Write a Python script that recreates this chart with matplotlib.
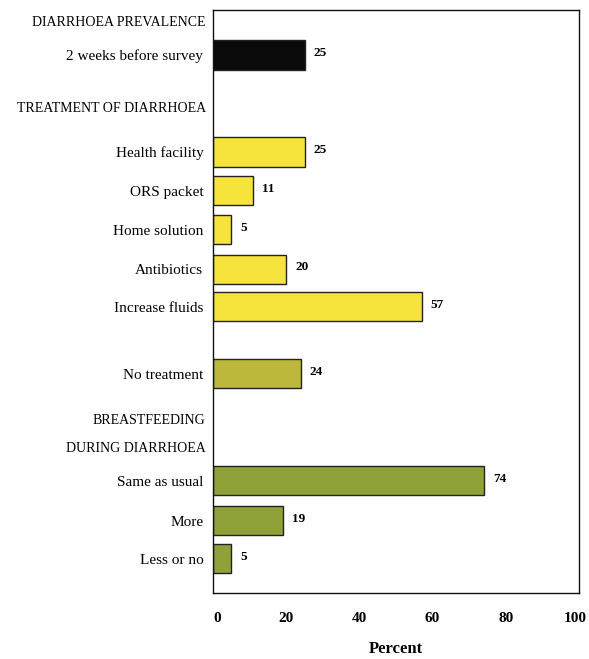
import matplotlib
matplotlib.use("Agg")
import matplotlib.pyplot as plt
from matplotlib.transforms import ScaledTranslation

# ---- data ----
categories = ["2 weeks before survey", "Health facility", "ORS packet", "Home solution",
              "Antibiotics", "Increase fluids", "No treatment", "Same as usual",
              "More", "Less or no"]
values = [25, 25, 11, 5, 20, 57, 24, 74, 19, 5]
groups = ["prev", "treat", "treat", "treat", "treat", "treat", "none", "bf", "bf", "bf"]
headings = ["DIARRHOEA PREVALENCE", "TREATMENT OF DIARRHOEA", "BREASTFEEDING", "DURING DIARRHOEA"]
xticks = [0, 20, 40, 60, 80, 100]
xlabel = "Percent"

# ---- layout / style ----
bar_pos = [1.16, 3.66, 4.66, 5.67, 6.68, 7.65, 9.38, 12.14, 13.17, 14.15]
head_pos = [0.31, 2.53, 10.57, 11.31]
colors = {"prev": "#0a0a0a", "treat": "#f6e43c", "none": "#bdb83c", "bf": "#8fa23a"}

plt.rcParams['font.family'] = ['Liberation Serif', 'DejaVu Serif']

fig = plt.figure(figsize=(5.89, 6.59), dpi=100)
ax = fig.add_axes([213/589, 1 - 593/659, (579-213)/589, (593-10)/659])

ax.barh(bar_pos, values, height=0.75, color=[colors[g] for g in groups],
        edgecolor="#222222", linewidth=1.0)
for y, v in zip(bar_pos, values):
    ax.text(v + 2.5, y - 0.05, str(v), va="center", ha="left", fontsize=9.5,
            fontweight="bold")

ax.set_xlim(0, 100)
ax.set_ylim(15.03, 0)
ax.set_yticks(bar_pos)
ax.set_yticklabels(categories, fontsize=11)
ax.tick_params(axis="y", length=0, pad=7)
ax.set_xticks(xticks)
ax.set_xticklabels([str(t) for t in xticks], fontsize=11, fontweight="bold")
ax.tick_params(axis="x", length=0, pad=14)
ax.set_xlabel(xlabel, fontsize=12, fontweight="bold", labelpad=11)

# nudge first/last tick labels like the reference (0 sits right of the spine, 100 inside)
tl = ax.get_xticklabels()
tl[0].set_transform(tl[0].get_transform() + ScaledTranslation(4/100, 0, fig.dpi_scale_trans))
tl[-1].set_transform(tl[-1].get_transform() + ScaledTranslation(-4/100, 0, fig.dpi_scale_trans))

for h, y in zip(headings, head_pos):
    ax.text(-0.02, y, h, transform=ax.get_yaxis_transform(), ha="right", va="center",
            fontsize=10)

for s in ax.spines.values():
    s.set_linewidth(1.0)
    s.set_color("#111111")

fig.savefig("out.png", dpi=100)
